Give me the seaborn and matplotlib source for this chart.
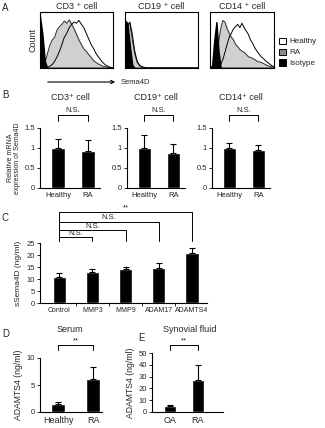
import numpy as np
import pandas as pd
import matplotlib
matplotlib.use('Agg')
import matplotlib.pyplot as plt
import seaborn as sns
from matplotlib.patches import Patch

# ---- data ----
# A: flow histograms (relative height, 31 points across the Sema4D axis)
cd3_iso = [0.92, 0.6, 0.12] + [0] * 28
cd3_ra = [0, 0.02, 0.08, 0.25, 0.4, 0.5, 0.55, 0.68, 0.74, 0.78, 0.84, 0.8, 0.86, 0.78, 0.7, 0.6,
          0.5, 0.42, 0.34, 0.3, 0.24, 0.19, 0.13, 0.1, 0.07, 0.05, 0.03, 0.02, 0.01, 0, 0]
cd3_healthy = [0, 0, 0, 0.01, 0.03, 0.06, 0.12, 0.2, 0.3, 0.42, 0.55, 0.62, 0.72, 0.78, 0.82, 0.8,
               0.85, 0.78, 0.72, 0.62, 0.52, 0.42, 0.35, 0.26, 0.2, 0.14, 0.09, 0.05, 0.03, 0.01, 0]
cd19_iso = [0.85, 0.8, 0.4, 0.05] + [0] * 27
cd19_ra = [0.3, 0.78, 0.8, 0.5, 0.25, 0.1, 0.04, 0.02, 0.01] + [0] * 22
cd19_healthy = [0.2, 0.75, 0.82, 0.6, 0.3, 0.12, 0.05, 0.02, 0.01] + [0] * 22
cd14_iso = [0, 0.05, 0.5, 0.82, 0.3] + [0] * 26
cd14_ra = [0, 0, 0.02, 0.1, 0.45, 0.7, 0.85, 0.82, 0.7, 0.62, 0.55, 0.5, 0.42, 0.38, 0.33, 0.3,
           0.28, 0.24, 0.2, 0.19, 0.17, 0.15, 0.12, 0.11, 0.1, 0.08, 0.06, 0.04, 0.03, 0.02, 0.01]
cd14_healthy = [0, 0, 0, 0, 0.02, 0.06, 0.15, 0.28, 0.42, 0.55, 0.62, 0.7, 0.74, 0.78, 0.72, 0.8,
                0.72, 0.66, 0.6, 0.5, 0.44, 0.36, 0.3, 0.25, 0.2, 0.17, 0.13, 0.1, 0.07, 0.04, 0.02]
hist_titles = ['CD3 ⁺ cell', 'CD19 ⁺ cell', 'CD14 ⁺ cell']

# B: relative mRNA
b_groups = ['Healthy', 'RA']
b_titles = ['CD3⁺ cell', 'CD19⁺ cell', 'CD14⁺ cell']
b_means = [[1.0, 0.93], [1.0, 0.87], [1.0, 0.96]]
b_errs = [[0.22, 0.28], [0.32, 0.22], [0.12, 0.12]]

# C: sSema4D
c_groups = ['Control', 'MMP3', 'MMP9', 'ADAM17', 'ADAMTS4']
c_means = [11.0, 13.1, 14.0, 14.6, 20.8]
c_errs = [1.6, 1.0, 1.2, 2.1, 2.2]
c_marks = ['N.S.', 'N.S.', 'N.S.', '**']

# D / E: ADAMTS4
d_groups = ['Healthy', 'RA']
d_means = [1.4, 6.2]
d_errs = [0.4, 2.1]
e_groups = ['OA', 'RA']
e_means = [4.8, 27.5]
e_errs = [0.8, 12.0]

sns.set_style('white')
plt.rcParams['font.family'] = ['Liberation Sans', 'DejaVu Sans']
plt.rcParams['font.size'] = 5.5

W, H = 325, 428
fig = plt.figure(figsize=(W / 100, H / 100), dpi=100)


def box(l, t, r, b):
    return fig.add_axes([l / W, 1 - b / H, (r - l) / W, (b - t) / H])


def fx(x):
    return x / W


def fy(y):
    return 1 - y / H


# ---- A ----
xs = np.linspace(0, 1, 31)
hist_sets = [(cd3_healthy, cd3_ra, cd3_iso), (cd19_healthy, cd19_ra, cd19_iso),
             (cd14_healthy, cd14_ra, cd14_iso)]
hist_pos = [(40, 12, 113, 68), (125, 12, 198, 68), (210, 12, 274, 68)]
for (hl, ra, iso), pos, title in zip(hist_sets, hist_pos, hist_titles):
    ax = box(*pos)
    ax.fill_between(xs, hl, color='white', zorder=1)
    ax.fill_between(xs, ra, color='#d0d0d0', zorder=2)
    sns.lineplot(x=xs, y=ra, color='#333333', lw=0.7, ax=ax, zorder=3)
    sns.lineplot(x=xs, y=hl, color='black', lw=0.7, ax=ax, zorder=4)
    ax.fill_between(xs, iso, color='black', zorder=5)
    ax.set_xlim(0, 1)
    ax.set_ylim(0, 1)
    ax.set_xticks([])
    ax.set_yticks([])
    for s in ax.spines.values():
        s.set_visible(True)
        s.set_linewidth(0.8)
        s.set_color('black')
    ax.set_title(title, fontsize=6.5, pad=2)
    if title.startswith('CD3'):
        ax.set_ylabel('Count', fontsize=6.5, labelpad=2)

fig.legend(handles=[Patch(facecolor='white', edgecolor='black', lw=0.7, label='Healthy'),
                    Patch(facecolor='#8a8a8a', edgecolor='black', lw=0.7, label='RA'),
                    Patch(facecolor='black', edgecolor='black', lw=0.7, label='Isotype')],
           loc='upper left', bbox_to_anchor=(fx(277), fy(36)), frameon=False, fontsize=5.8,
           handlelength=0.9, handleheight=0.8, handletextpad=0.4, labelspacing=0.38,
           borderaxespad=0, borderpad=0.2)
fig.add_artist(matplotlib.patches.FancyArrowPatch((fx(45), fy(82)), (fx(118), fy(82)),
                                                  transform=fig.transFigure, arrowstyle='->',
                                                  mutation_scale=6, lw=0.8, color='black'))
fig.text(fx(121), fy(82), 'Sema4D', fontsize=5.5, va='center', ha='left')


# ---- bar helper ----
def bars(ax, groups, means, errs, ylim, yticks, ylabels, width):
    df = pd.DataFrame({'g': groups, 'v': means})
    sns.barplot(data=df, x='g', y='v', color='black', saturation=1, width=width, ax=ax,
                errorbar=None)
    ax.errorbar(range(len(groups)), means, yerr=[np.zeros(len(groups)), errs], fmt='none',
                ecolor='black', elinewidth=0.8, capsize=2, capthick=0.8)
    ax.set_ylim(*ylim)
    ax.set_yticks(yticks)
    ax.set_yticklabels(ylabels)
    ax.set_xlabel('')
    ax.set_ylabel('')
    sns.despine(ax=ax)
    for s in ['left', 'bottom']:
        ax.spines[s].set_linewidth(0.8)
        ax.spines[s].set_color('black')
    ax.tick_params(axis='y', length=2, width=0.7, pad=1.5, labelsize=5.5, left=True)
    ax.tick_params(axis='x', length=0, pad=3, labelsize=5.5)


def bracket(ax, x1, x2, y, ydrop, text, dy):
    ax.plot([x1, x1, x2, x2], [ydrop, y, y, ydrop], color='black', lw=0.7, clip_on=False)
    ax.text((x1 + x2) / 2, y + dy, text, ha='center', va='bottom', fontsize=5.5)


# ---- B ----
b_pos = [(40, 128, 100, 188), (127, 128, 185, 188), (212, 128, 270, 188)]
for pos, title, m, e in zip(b_pos, b_titles, b_means, b_errs):
    ax = box(*pos)
    bars(ax, b_groups, m, e, (0, 1.5), [0, 0.5, 1, 1.5], ['0', '0.5', '1', '1.5'], 0.45)
    ax.set_xlim(-0.6, 1.4)
    bracket(ax, 0, 1, 1.82, 1.67, 'N.S.', 0.03)
    ax.set_title(title, fontsize=6.5, pad=20)
fig.text(fx(14), fy(158), 'Relative mRNA\nexpression of Sema4D', rotation=90, ha='center',
         va='center', fontsize=5, linespacing=1.1)

# ---- C ----
ax = box(40, 243, 207, 303)
bars(ax, c_groups, c_means, c_errs, (0, 25), [0, 5, 10, 15, 20, 25],
     ['0', '5', '10', '15', '20', '25'], 0.4)
ax.set_xlim(-0.58, 4.45)
ax.tick_params(axis='x', labelsize=5)
ax.set_xticks([0.5, 1.5, 2.5, 3.5], minor=True)
ax.tick_params(axis='x', which='minor', length=2, width=0.7, bottom=True)
for i, (yb, mark) in enumerate(zip([27.5, 30.4, 33.8, 37.9], c_marks)):
    bracket(ax, 0, i + 1, yb, 25.8, mark, 0.2)
ax.set_ylabel('sSema4D (ng/ml)', fontsize=6, labelpad=3)

# ---- D ----
ax = box(40, 358, 102, 412)
bars(ax, d_groups, d_means, d_errs, (0, 10), [0, 5, 10], ['0', '5', '10'], 0.4)
ax.set_xlim(-0.52, 1.25)
ax.tick_params(axis='x', labelsize=6.5)
bracket(ax, 0, 1, 12.4, 11.5, '**', 0.1)
ax.set_ylabel('ADAMTS4 (ng/ml)', fontsize=6.2, labelpad=3)
fig.text(fx(70), fy(330), 'Serum', fontsize=6.5, ha='center', va='center')

# ---- E ----
ax = box(152, 353, 223, 412)
bars(ax, e_groups, e_means, e_errs, (0, 50), [0, 10, 20, 30, 40, 50],
     ['0', '10', '20', '30', '40', '50'], 0.45)
ax.set_xlim(-0.65, 1.9)
ax.tick_params(axis='x', labelsize=6.5)
bracket(ax, 0, 1, 56.8, 52.5, '**', 0.5)
ax.set_ylabel('ADAMTS4 (ng/ml)', fontsize=6.2, labelpad=3)
fig.text(fx(190), fy(330), 'Synovial fluid', fontsize=6.5, ha='center', va='center')

# panel letters
for lab, x, y in [('A', 2, 8), ('B', 2, 95), ('C', 2, 218), ('D', 2, 334), ('E', 138, 338)]:
    fig.text(fx(x), fy(y), lab, fontsize=7, ha='left', va='center')

fig.savefig('out.png', dpi=100)
